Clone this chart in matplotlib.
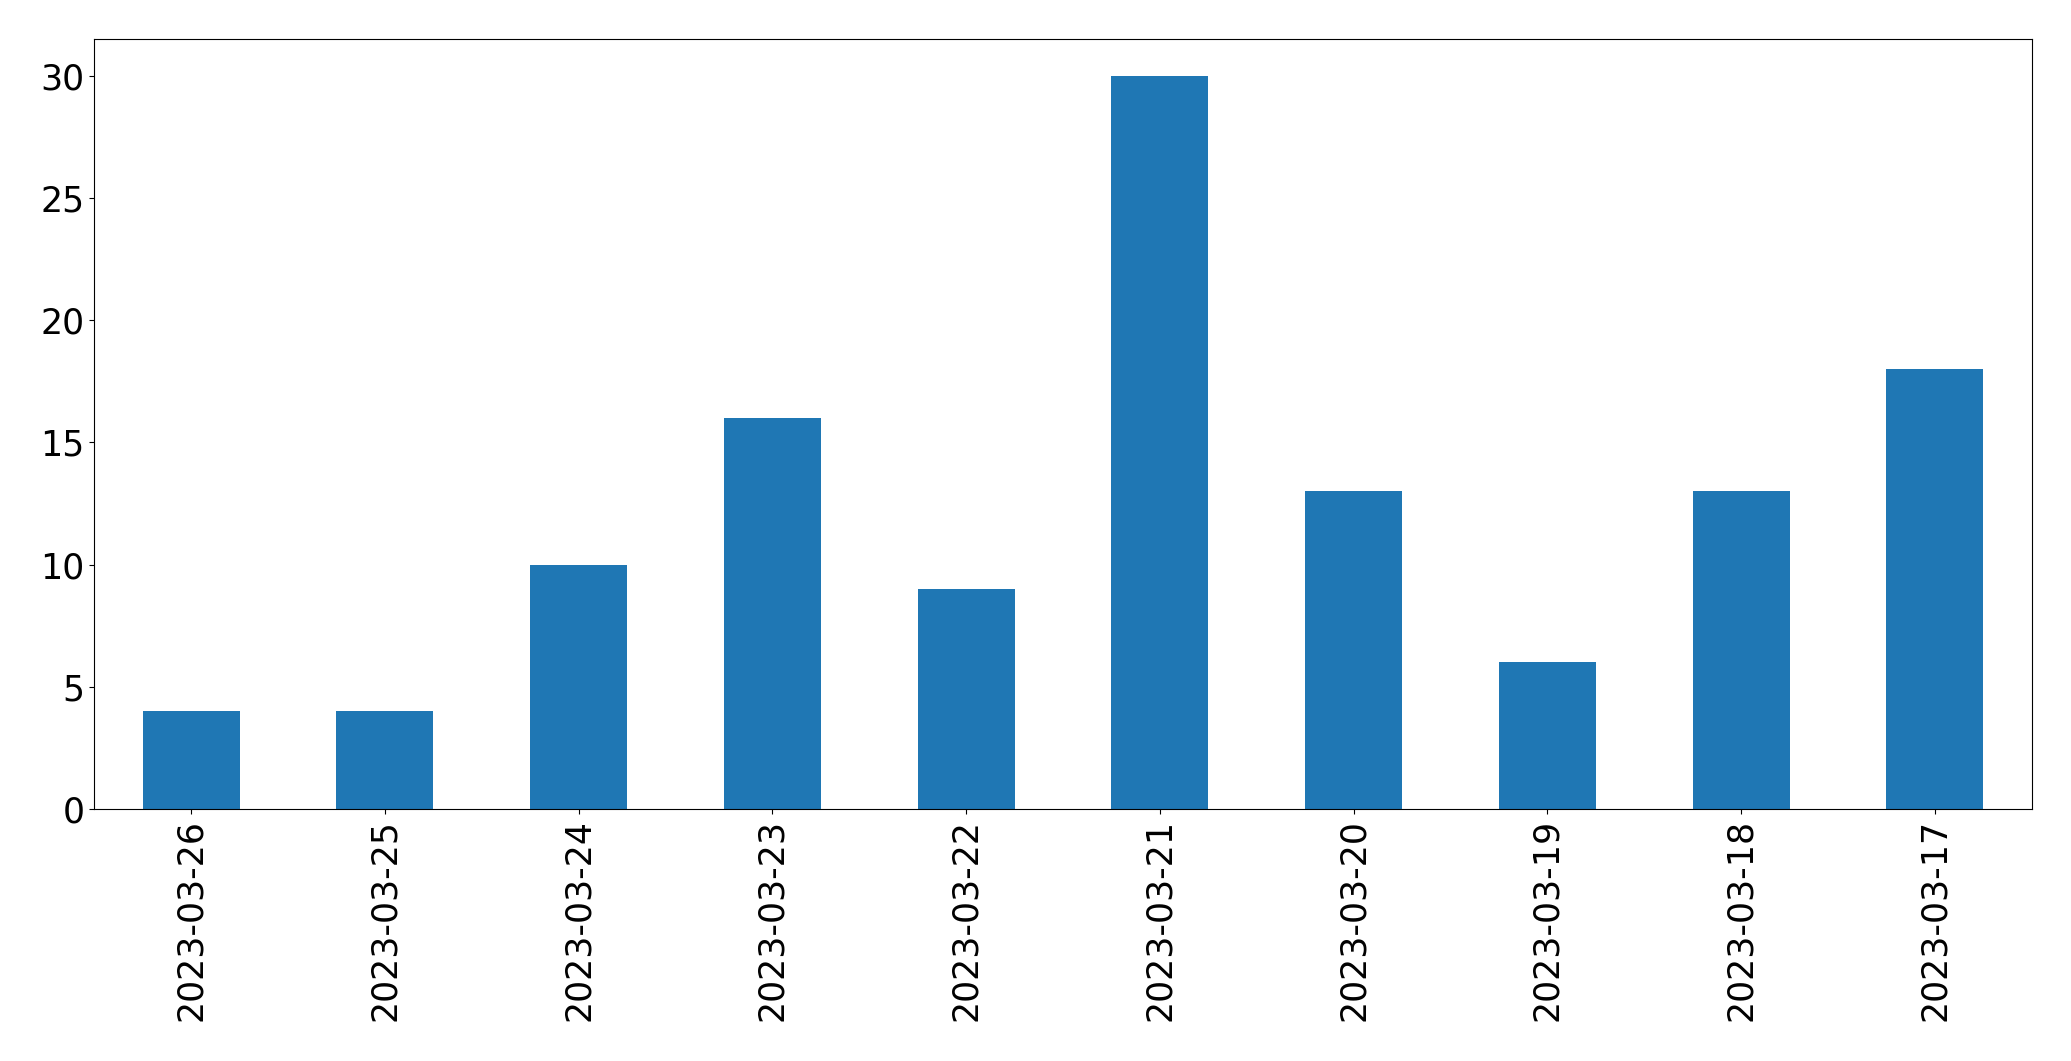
import matplotlib
matplotlib.use('Agg')
import matplotlib.pyplot as plt

""" DATA """
dates = ['2023-03-26', '2023-03-25', '2023-03-24', '2023-03-23', '2023-03-22',
         '2023-03-21', '2023-03-20', '2023-03-19', '2023-03-18', '2023-03-17']
counts = [4, 4, 10, 16, 9, 30, 13, 6, 13, 18]

W, H = 2071, 1061


def draw():
    fig = plt.figure(figsize=(W / 100, H / 100), dpi=100)
    ax = fig.add_axes([94.3 / W, (H - 809) / H, 1937.4 / W, 769.7 / H])
    x = list(range(len(dates)))
    ax.bar(x, counts, width=0.5, color='#1f77b4')
    ax.set_xlim(-0.5, len(dates) - 0.5)
    ax.set_ylim(0, max(counts) * 1.05)
    ax.set_xticks(x)
    ax.set_xticklabels(dates, rotation=90)
    ax.set_yticks([0, 5, 10, 15, 20, 25, 30])
    ax.tick_params(labelsize=25)
    fig.savefig('out.png', dpi=100)


if __name__ == '__main__':
    draw()
